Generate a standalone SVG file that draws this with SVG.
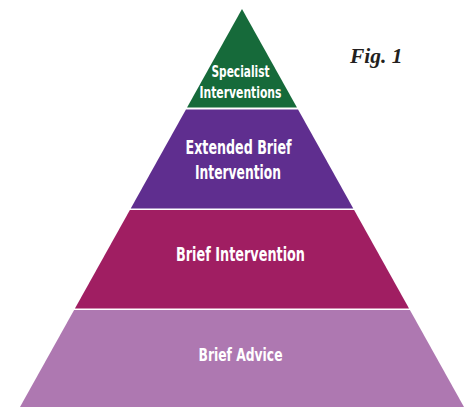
<svg xmlns="http://www.w3.org/2000/svg" width="471" height="407" viewBox="0 0 471 407">
  <style>
    .lbl { font-family: "DejaVu Sans Condensed", "DejaVu Sans", "Liberation Sans", sans-serif; font-weight: bold; font-stretch: condensed; fill: #ffffff; text-anchor: middle; }
    .fig { font-family: "Liberation Serif", "DejaVu Serif", serif; font-weight: bold; font-style: italic; fill: #231f20; }
  </style>
  <rect x="0" y="0" width="471" height="407" fill="#ffffff"/>

  <!-- Tier 4: top of the pyramid -->
  <g id="specialist">
    <polygon points="242,9 296.94,107.5 187.06,107.5" fill="#166a3a"/>
    <text class="lbl" x="240.5" y="77" font-size="16.5" textLength="58" lengthAdjust="spacingAndGlyphs">Specialist</text>
    <text class="lbl" x="240.5" y="98" font-size="16.5" textLength="82" lengthAdjust="spacingAndGlyphs">Interventions</text>
  </g>

  <!-- Tier 3 -->
  <g id="extended-brief">
    <polygon points="185.94,109.5 298.06,109.5 353.28,208.5 130.72,208.5" fill="#5f2e8f"/>
    <text class="lbl" x="238.5" y="154" font-size="19" textLength="106" lengthAdjust="spacingAndGlyphs">Extended Brief</text>
    <text class="lbl" x="238" y="178.5" font-size="19" textLength="86" lengthAdjust="spacingAndGlyphs">Intervention</text>
  </g>

  <!-- Tier 2 -->
  <g id="brief-intervention">
    <polygon points="129.88,210 354.12,210 409.06,308.5 74.94,308.5" fill="#a01e62"/>
    <text class="lbl" x="240.5" y="261" font-size="19.5" textLength="129" lengthAdjust="spacingAndGlyphs">Brief Intervention</text>
  </g>

  <!-- Tier 1: base of the pyramid -->
  <g id="brief-advice">
    <polygon points="74.1,310 409.9,310 464,407 20,407" fill="#ae78b1"/>
    <text class="lbl" x="240.5" y="361" font-size="18.5" textLength="84" lengthAdjust="spacingAndGlyphs">Brief Advice</text>
  </g>

  <g id="connectors"/>

  <text class="fig" x="350" y="63.3" font-size="21.5">Fig. 1</text>
</svg>
